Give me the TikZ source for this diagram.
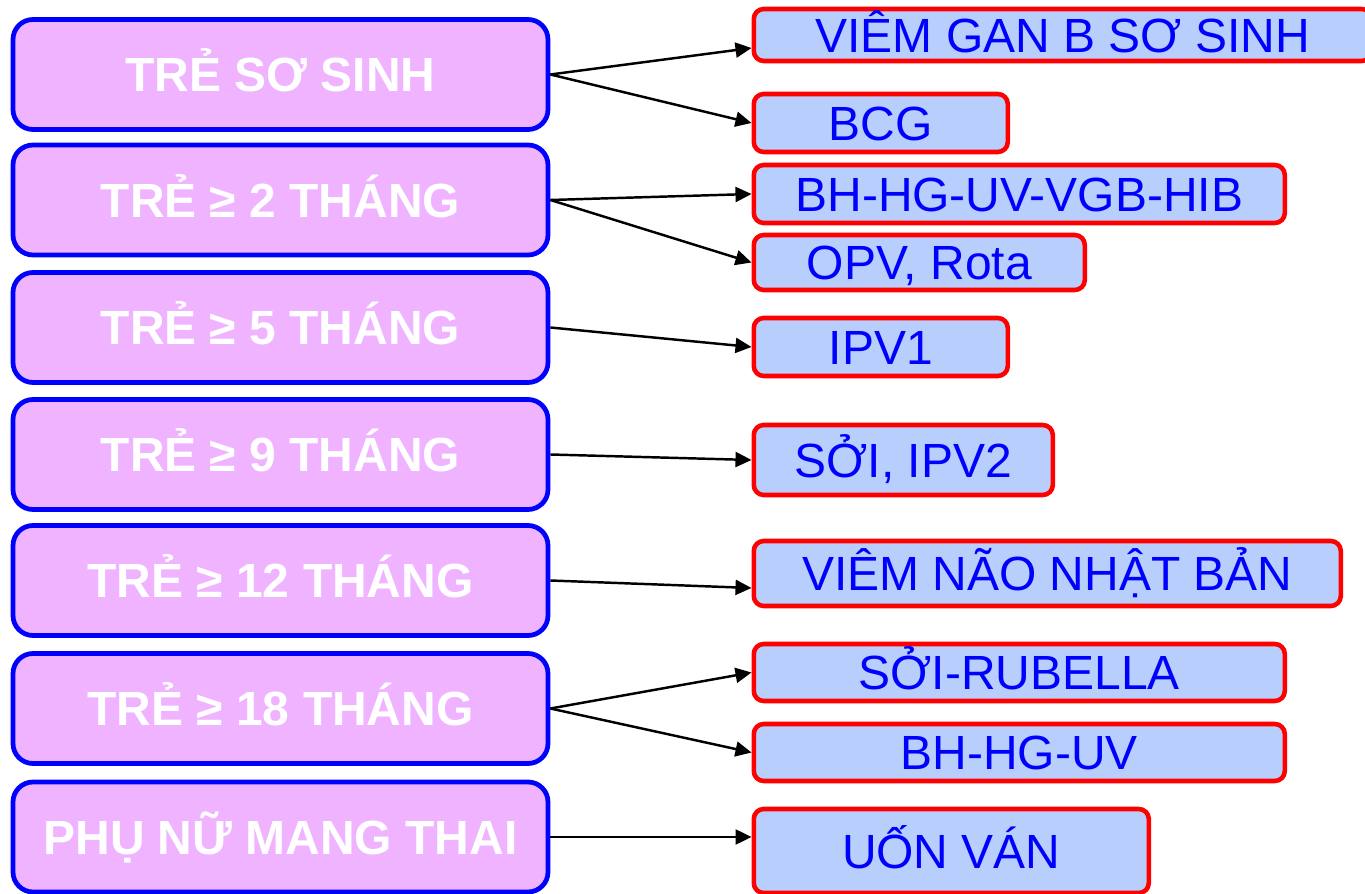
\documentclass[tikz,border=0pt]{standalone}
\usepackage{fontspec}
\setmainfont{Liberation Sans}
\usetikzlibrary{arrows.meta, positioning}

\definecolor{agefill}{RGB}{240,179,255}
\definecolor{vacfill}{RGB}{184,206,252}

\begin{document}
\begin{tikzpicture}[
        age/.style={rectangle, rounded corners=0.4cm, fill=agefill, draw=blue, line width=2.7pt, minimum width=10.7cm, minimum height=2.2cm, inner sep=0pt, text=white, font=\fontsize{27.3}{33}\selectfont\bfseries, text height=0.7cm, text depth=0pt},
        vaccine/.style={rectangle, rounded corners=0.2cm, fill=vacfill, draw=red, line width=2.6pt, anchor=west, inner sep=0pt, text=blue, font=\fontsize{27.3}{33}\selectfont, text height=0.7cm, text depth=0pt},
        link/.style={-{Triangle[length=0.32cm, width=0.3cm]}, line width=1.4pt, black}
    ]

    \useasboundingbox (0, 0) rectangle (27.3, -17.88);

    % Age groups (left column)
    \node[age] (sosinh) at (5.61, -1.49) {TRẺ SƠ SINH};
    \node[age] (hai) at (5.61, -4.00) {TRẺ ≥ 2 THÁNG};
    \node[age] (nam) at (5.61, -6.55) {TRẺ ≥ 5 THÁNG};
    \node[age] (chin) at (5.61, -9.09) {TRẺ ≥ 9 THÁNG};
    \node[age] (muoihai) at (5.61, -11.61) {TRẺ ≥ 12 THÁNG};
    \node[age] (muoitam) at (5.61, -14.17) {TRẺ ≥ 18 THÁNG};
    \node[age] (mangthai) at (5.61, -16.74) {PHỤ NỮ MANG THAI};

    % Vaccines (right column)
    \node[vaccine, minimum width=12.36cm, minimum height=1.04cm] (vgb) at (15.03, -0.70) {VIÊM GAN B SƠ SINH};
    \node[vaccine, minimum width=5.08cm, minimum height=1.16cm] (bcg) at (15.03, -2.46) {BCG};
    \node[vaccine, minimum width=10.62cm, minimum height=1.16cm] (hib) at (15.03, -3.88) {BH-HG-UV-VGB-HIB};
    \node[vaccine, minimum width=6.62cm, minimum height=1.10cm] (opv) at (15.03, -5.25) {OPV, Rota};
    \node[vaccine, minimum width=5.08cm, minimum height=1.16cm] (ipvmot) at (15.03, -6.94) {IPV1};
    \node[vaccine, minimum width=5.98cm, minimum height=1.40cm] (soi) at (15.03, -9.20) {SỞI, IPV2};
    \node[vaccine, minimum width=11.74cm, minimum height=1.30cm] (viemnao) at (15.03, -11.47) {VIÊM NÃO NHẬT BẢN};
    \node[vaccine, minimum width=10.62cm, minimum height=1.14cm] (rubella) at (15.03, -13.45) {SỞI-RUBELLA};
    \node[vaccine, minimum width=10.62cm, minimum height=1.14cm] (bhhguv) at (15.03, -15.05) {BH-HG-UV};
    \node[vaccine, minimum width=7.90cm, minimum height=1.68cm] (uonvan) at (15.03, -17.02) {UỐN VÁN};

    % --- Edges ---
    \draw[link] (sosinh.east) -- ([yshift=-0.26cm]vgb.west);
    \draw[link] (sosinh.east) -- (bcg.west);

    \draw[link] (hai.east) -- (hib.west);
    \draw[link] (hai.east) -- (opv.west);

    \draw[link] (nam.east) -- (ipvmot.west);
    \draw[link] (chin.east) -- (soi.west);
    \draw[link] (muoihai.east) -- ([yshift=-0.29cm]viemnao.west);

    \draw[link] (muoitam.east) -- (rubella.west);
    \draw[link] (muoitam.east) -- (bhhguv.west);

    \draw[link] (mangthai.east) -- (uonvan.west |- mangthai.east);

    \end{tikzpicture}
\end{document}
